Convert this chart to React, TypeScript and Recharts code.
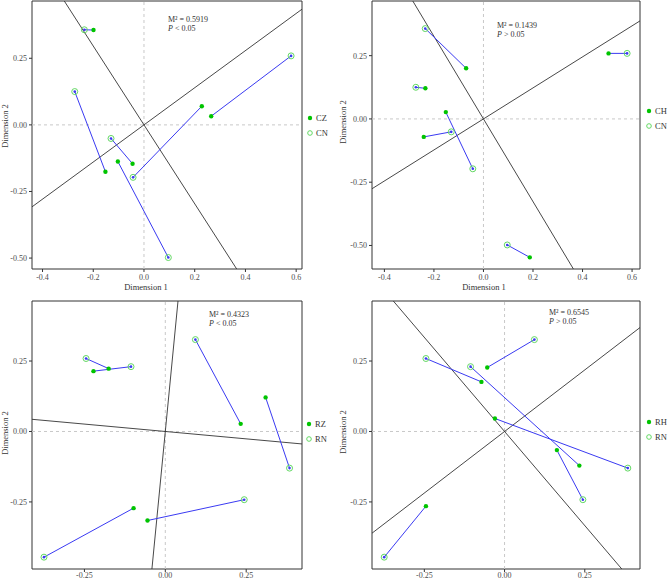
import { ScatterChart, Scatter, XAxis, YAxis, ReferenceLine, ReferenceArea } from 'recharts';

const FONT = '"Liberation Serif", "Times New Roman", serif';

// shared reference sets
const cnX = [-0.235, -0.273, -0.13, 0.096, -0.043, 0.58];
const cnY = [0.357, 0.125, -0.051, -0.498, -0.197, 0.259];
const rnX = [-0.245, -0.106, 0.093, 0.384, -0.375, 0.244];
const rnY = [0.259, 0.23, 0.326, -0.13, -0.446, -0.242];

// matched sets (same order as the reference set)
const czX = [-0.199, -0.152, -0.045, -0.103, 0.228, 0.265];
const czY = [0.356, -0.176, -0.146, -0.1375, 0.07, 0.0325];
const chX = [-0.07, -0.2345, -0.241, 0.187, -0.152, 0.505];
const chY = [0.2, 0.121, -0.071, -0.547, 0.027, 0.259];
const rzX = [-0.175, -0.222, 0.233, 0.31, -0.098, -0.055];
const rzY = [0.223, 0.214, 0.027, 0.121, -0.272, -0.316];
const rhX = [-0.072, 0.233, -0.054, -0.03, -0.245, 0.163];
const rhY = [0.176, -0.121, 0.227, 0.046, -0.265, -0.066];

// rotation axes (slopes through origin)
const slopesCZ = [0.697, -1.48];
const slopesCH = [0.613, -1.633];
const slopesRZ = [-0.1048, 11.8];
const slopesRH = [0.874, -1.336];

const stats = [
  { m2: '0.5919', p: '< 0.05' },
  { m2: '0.1439', p: '> 0.05' },
  { m2: '0.4323', p: '< 0.05' },
  { m2: '0.6545', p: '> 0.05' },
];

const ticksWide = [-0.4, -0.2, 0, 0.2, 0.4, 0.6];
const ticksY1 = [-0.5, -0.25, 0, 0.25];
const ticksNarrow = [-0.25, 0, 0.25];

type Pt = { x: number; y: number };
const pts = (xs: number[], ys: number[]): Pt[] => xs.map((x, i) => ({ x, y: ys[i] }));

const FILLED = '#00c400';
const HOLLOW = '#63d863';
const LINK = '#3a3af2';
const AXIS = '#333';

const Filled = (p: any) => <circle cx={p.cx} cy={p.cy} r={2.2} fill={FILLED} />;
const Hollow = (p: any) => (
  <g>
    <circle cx={p.cx} cy={p.cy} r={3} fill="none" stroke={HOLLOW} strokeWidth={1} />
    <circle cx={p.cx} cy={p.cy} r={1.3} fill={LINK} />
  </g>
);

function axisEnds(s: number) {
  const t = 3 / Math.max(1, Math.abs(s));
  return [{ x: -t, y: -s * t }, { x: t, y: s * t }];
}

type PanelProps = {
  left: number;
  top: number;
  yWidth: number;
  mTop: number;
  mRight: number;
  mBottom: number;
  xTickGap: number;
  xDomain: [number, number];
  yDomain: [number, number];
  xTicks: number[];
  yTicks: number[];
  xDigits: number;
  filled: Pt[];
  hollow: Pt[];
  slopes: number[];
};

function Panel(props: PanelProps) {
  const { xDomain, yDomain } = props;
  return (
    <div style={{ position: 'absolute', left: props.left, top: props.top }}>
      <ScatterChart
        width={334}
        height={300}
        margin={{ top: props.mTop, right: props.mRight, bottom: props.mBottom, left: 0 }}
      >
        <XAxis
          type="number"
          dataKey="x"
          domain={xDomain}
          allowDataOverflow
          ticks={props.xTicks}
          tickFormatter={(v: number) => v.toFixed(props.xDigits)}
          axisLine={false}
          tickSize={3}
          tickMargin={props.xTickGap}
          tickLine={{ stroke: AXIS }}
          height={20}
          tick={{ fontSize: 8, fill: '#4d4d4d', fontFamily: FONT }}
        />
        <YAxis
          type="number"
          dataKey="y"
          domain={yDomain}
          allowDataOverflow
          ticks={props.yTicks}
          tickFormatter={(v: number) => v.toFixed(2)}
          axisLine={false}
          tickSize={3}
          tickLine={{ stroke: AXIS }}
          width={props.yWidth}
          tick={{ fontSize: 8, fill: '#4d4d4d', fontFamily: FONT }}
        />
        <ReferenceLine x={0} stroke="#c8c8c8" strokeDasharray="3 3" />
        <ReferenceLine y={0} stroke="#c8c8c8" strokeDasharray="3 3" />
        {props.slopes.map((s, i) => (
          <ReferenceLine key={'a' + i} segment={axisEnds(s)} ifOverflow="hidden" stroke="#333" strokeWidth={0.9} />
        ))}
        {props.filled.map((p, i) => (
          <ReferenceLine key={'l' + i} segment={[p, props.hollow[i]]} stroke={LINK} strokeWidth={1} />
        ))}
        <Scatter data={props.filled} shape={Filled} isAnimationActive={false} />
        <Scatter data={props.hollow} shape={Hollow} isAnimationActive={false} />
        <ReferenceArea
          x1={xDomain[0]}
          x2={xDomain[1]}
          y1={yDomain[0]}
          y2={yDomain[1]}
          fill="none"
          stroke={AXIS}
          strokeWidth={1}
        />
      </ScatterChart>
    </div>
  );
}

const txt = { position: 'absolute' as const, fontFamily: FONT, fontSize: 8, color: '#333', whiteSpace: 'nowrap' as const, lineHeight: '10px' };

function Stat({ x, y, i }: { x: number; y: number; i: number }) {
  return (
    <>
      <div style={{ ...txt, left: x, top: y - 5 }}>M² = {stats[i].m2}</div>
      <div style={{ ...txt, left: x, top: y + 4 }}>
        <i>P</i> {stats[i].p}
      </div>
    </>
  );
}

function LegendBox({ x, y, a, b }: { x: number; y: number; a: string; b: string }) {
  return (
    <>
      <div style={{ ...txt, left: x - 3, top: y - 5, fontSize: 8.5, display: 'flex', alignItems: 'center' }}>
        <svg width={6} height={6}><circle cx={3} cy={3} r={2.2} fill={FILLED} /></svg>
        <span style={{ marginLeft: 3 }}>{a}</span>
      </div>
      <div style={{ ...txt, left: x - 3, top: y + 10, fontSize: 8.5, display: 'flex', alignItems: 'center' }}>
        <svg width={6} height={6}><circle cx={3} cy={3} r={2.3} fill="none" stroke={HOLLOW} /></svg>
        <span style={{ marginLeft: 3 }}>{b}</span>
      </div>
    </>
  );
}

function XTitle({ x, y }: { x: number; y: number }) {
  return <div style={{ ...txt, left: x, top: y, transform: 'translate(-50%, -50%)', fontSize: 8.5 }}>Dimension 1</div>;
}

function YTitle({ x, y }: { x: number; y: number }) {
  return (
    <div style={{ ...txt, left: x, top: y, transform: 'translate(-50%, -50%) rotate(-90deg)', fontSize: 8.5 }}>
      Dimension 2
    </div>
  );
}

export default function App() {
  return (
    <div style={{ position: 'absolute', left: 0, top: 0, width: 668, height: 580, background: '#fff', overflow: 'hidden' }}>
      <Panel
        left={0} top={0} yWidth={32} mTop={1} mRight={32} mBottom={11} xTickGap={2}
        xDomain={[-0.4415, 0.623]} yDomain={[-0.541, 0.465]}
        xTicks={ticksWide} yTicks={ticksY1} xDigits={1}
        filled={pts(czX, czY)} hollow={pts(cnX, cnY)} slopes={slopesCZ}
      />
      <Panel
        left={334} top={0} yWidth={38} mTop={1} mRight={28} mBottom={11} xTickGap={2}
        xDomain={[-0.45, 0.632]} yDomain={[-0.593, 0.466]}
        xTicks={ticksWide} yTicks={ticksY1} xDigits={1}
        filled={pts(chX, chY)} hollow={pts(cnX, cnY)} slopes={slopesCH}
      />
      <Panel
        left={0} top={290} yWidth={32} mTop={11} mRight={32} mBottom={1} xTickGap={0}
        xDomain={[-0.412, 0.4225]} yDomain={[-0.488, 0.463]}
        xTicks={ticksNarrow} yTicks={ticksNarrow} xDigits={2}
        filled={pts(rzX, rzY)} hollow={pts(rnX, rnY)} slopes={slopesRZ}
      />
      <Panel
        left={334} top={290} yWidth={38} mTop={11} mRight={28} mBottom={1} xTickGap={0}
        xDomain={[-0.413, 0.422]} yDomain={[-0.488, 0.463]}
        xTicks={ticksNarrow} yTicks={ticksNarrow} xDigits={2}
        filled={pts(rhX, rhY)} hollow={pts(rnX, rnY)} slopes={slopesRH}
      />

      <Stat x={168} y={20} i={0} />
      <Stat x={497} y={26} i={1} />
      <Stat x={209} y={315} i={2} />
      <Stat x={549} y={313} i={3} />

      <LegendBox x={310} y={118} a="CZ" b="CN" />
      <LegendBox x={649} y={111} a="CH" b="CN" />
      <LegendBox x={309} y={424} a="RZ" b="RN" />
      <LegendBox x={649} y={422} a="RH" b="RN" />

      <XTitle x={146} y={287} />
      <XTitle x={484} y={287} />
      <YTitle x={4.5} y={126} />
      <YTitle x={343} y={122} />
      <YTitle x={4.5} y={433} />
      <YTitle x={343} y={432} />
    </div>
  );
}
